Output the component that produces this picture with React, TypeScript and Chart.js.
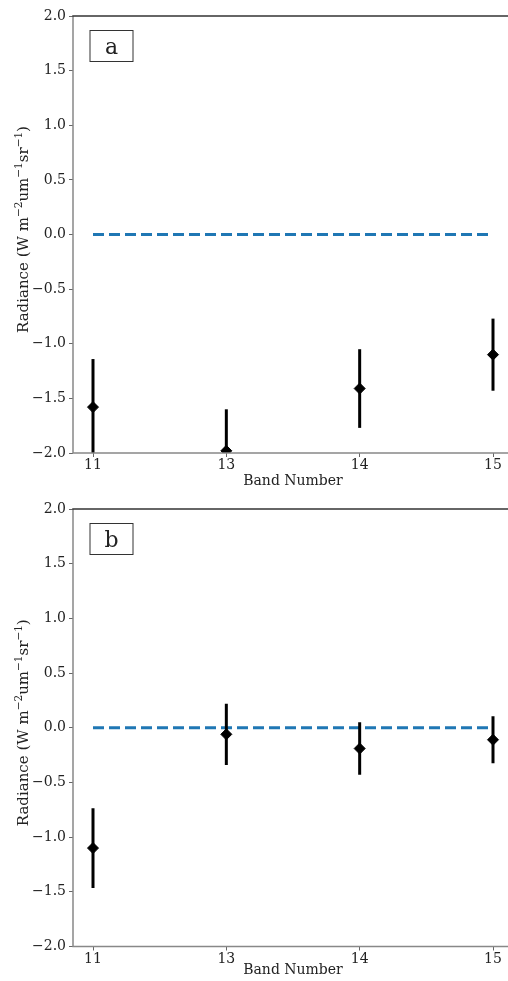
import React, { useEffect, useRef } from 'react';
import { Chart, registerables } from 'chart.js';

Chart.register(...registerables);

const bands = ['11', '13', '14', '15'];
const yTicks = [-2, -1.5, -1, -0.5, 0, 0.5, 1, 1.5, 2];
const meanA = [-1.58, -1.98, -1.41, -1.1];
const errA = [0.44, 0.38, 0.36, 0.33];
const meanB = [-1.1, -0.06, -0.19, -0.11];
const errB = [0.365, 0.28, 0.24, 0.215];
const baseline = [0, 0, 0, 0];
// y-axis title as [text, isSuperscript] parts
const yTitleParts: [string, boolean][] = [
  ['Radiance (W m', false],
  ['\u22122', true],
  ['um', false],
  ['\u22121', true],
  ['sr', false],
  ['\u22121', true],
  [')', false],
];
const xTitle = 'Band Number';

const FAMILY = "'DejaVu Serif', serif";
const TEXT = '#222';
const FS = 14;
const TITLE_FS = 15;

function fmt(v: number) {
  return v.toFixed(1).replace('-', '\u2212');
}

type PanelProps = {
  label: string;
  mean: number[];
  err: number[];
  top: number;
  height: number;
  padTop: number;
  xAxisH: number;
};

function Panel({ label, mean, err, top, height, padTop, xAxisH }: PanelProps) {
  const ref = useRef<HTMLCanvasElement | null>(null);
  useEffect(() => {
    if (!ref.current) return;
    const deco = {
      id: 'deco' + label,
      afterDatasetsDraw(chart: any) {
        const { ctx, chartArea, scales } = chart;
        const xs = scales.x;
        const ys = scales.y;
        ctx.save();
        ctx.beginPath();
        ctx.rect(chartArea.left, chartArea.top, chartArea.right - chartArea.left, chartArea.bottom - chartArea.top);
        ctx.clip();
        ctx.strokeStyle = '#000';
        ctx.lineWidth = 3;
        mean.forEach((m, i) => {
          const px = xs.getPixelForValue(i);
          ctx.beginPath();
          ctx.moveTo(px, ys.getPixelForValue(m + err[i]));
          ctx.lineTo(px, ys.getPixelForValue(m - err[i]));
          ctx.stroke();
        });
        ctx.restore();
      },
      afterDraw(chart: any) {
        const { ctx, chartArea } = chart;
        const { left, top: t, right, bottom } = chartArea;
        ctx.save();
        // spines
        ctx.lineWidth = 1.5;
        ctx.strokeStyle = '#888';
        ctx.beginPath();
        ctx.moveTo(left, t);
        ctx.lineTo(left, bottom + 0.75);
        ctx.moveTo(left - 0.75, bottom);
        ctx.lineTo(right, bottom);
        ctx.stroke();
        ctx.strokeStyle = '#333';
        ctx.beginPath();
        ctx.moveTo(left - 0.75, t);
        ctx.lineTo(right, t);
        ctx.stroke();
        // panel label box
        const bx = left + 16.5;
        const by = t + 14;
        ctx.fillStyle = '#fff';
        ctx.fillRect(bx, by, 43, 31);
        ctx.strokeStyle = '#333';
        ctx.lineWidth = 1;
        ctx.strokeRect(bx + 0.5, by + 0.5, 43, 31);
        ctx.fillStyle = '#222';
        ctx.font = '22px ' + FAMILY;
        ctx.textAlign = 'center';
        ctx.textBaseline = 'alphabetic';
        ctx.fillText(label, bx + 22, by + 24);
        // y-axis title with superscripts
        const big = TITLE_FS + 'px ' + FAMILY;
        const small = Math.round(TITLE_FS * 0.7 * 10) / 10 + 'px ' + FAMILY;
        let total = 0;
        const widths = yTitleParts.map(([txt, sup]) => {
          ctx.font = sup ? small : big;
          const w = ctx.measureText(txt).width;
          total += w;
          return w;
        });
        const cy = (t + bottom) / 2 - 5;
        ctx.translate(27.5, cy);
        ctx.rotate(-Math.PI / 2);
        ctx.textAlign = 'left';
        ctx.fillStyle = TEXT;
        let x = -total / 2;
        yTitleParts.forEach(([txt, sup], i) => {
          ctx.font = sup ? small : big;
          ctx.fillText(txt, x, sup ? -6 : 0);
          x += widths[i];
        });
        ctx.restore();
      },
    };
    const tickFont = { family: FAMILY, size: FS };
    const chart = new Chart(ref.current, {
      type: 'scatter',
      data: {
        datasets: [
          {
            type: 'line',
            data: baseline.map((v, i) => ({ x: i, y: v })),
            borderColor: '#1f77b4',
            borderWidth: 3,
            borderDash: [11, 5],
            pointRadius: 0,
            fill: false,
          } as any,
          {
            type: 'scatter',
            data: mean.map((v, i) => ({ x: i, y: v })),
            pointStyle: 'rectRot',
            pointRadius: 5.5,
            backgroundColor: '#000',
            borderColor: '#000',
            borderWidth: 1,
          } as any,
        ],
      },
      options: {
        animation: false,
        responsive: false,
        events: [],
        layout: { padding: { top: padTop, right: 17, left: 0, bottom: 0 } },
        plugins: { legend: { display: false }, tooltip: { enabled: false } },
        scales: {
          x: {
            type: 'linear',
            min: -0.15,
            max: 3.15,
            afterBuildTicks: (s: any) => {
              s.ticks = bands.map((_, i) => ({ value: i }));
            },
            afterFit: (s: any) => {
              s.height = xAxisH;
            },
            ticks: {
              callback: (v: any) => bands[v as number] ?? '',
              font: tickFont,
              color: TEXT,
              padding: 0,
              maxRotation: 0,
              autoSkip: false,
            },
            grid: { drawOnChartArea: false, tickLength: 4, tickColor: '#666', tickWidth: 1 },
            border: { display: false },
            title: {
              display: true,
              text: xTitle,
              font: tickFont,
              color: TEXT,
              padding: { top: 0, bottom: 2.5 },
            },
          },
          y: {
            type: 'linear',
            min: -2,
            max: 2,
            afterBuildTicks: (s: any) => {
              s.ticks = yTicks.map((v) => ({ value: v }));
            },
            afterFit: (s: any) => {
              s.width = 73;
            },
            ticks: {
              callback: (v: any) => fmt(v as number),
              font: tickFont,
              color: TEXT,
              padding: 3,
            },
            grid: { drawOnChartArea: false, tickLength: 4, tickColor: '#666', tickWidth: 1 },
            border: { display: false },
            title: { display: false },
          },
        },
      },
      plugins: [deco],
    } as any);
    return () => chart.destroy();
  }, [label, mean, err, padTop, xAxisH]);
  return (
    <canvas
      ref={ref}
      width={530}
      height={height}
      style={{ position: 'absolute', left: 0, top, width: 530, height, display: 'block' }}
    />
  );
}

export default function App() {
  return (
    <div
      style={{
        position: 'fixed',
        left: 0,
        top: 0,
        width: 508,
        height: 981,
        overflow: 'hidden',
        background: '#fff',
      }}
    >
      <Panel label="a" mean={meanA} err={errA} top={0} height={492} padTop={16} xAxisH={39} />
      <Panel label="b" mean={meanB} err={errB} top={492} height={489} padTop={17} xAxisH={34.5} />
    </div>
  );
}
